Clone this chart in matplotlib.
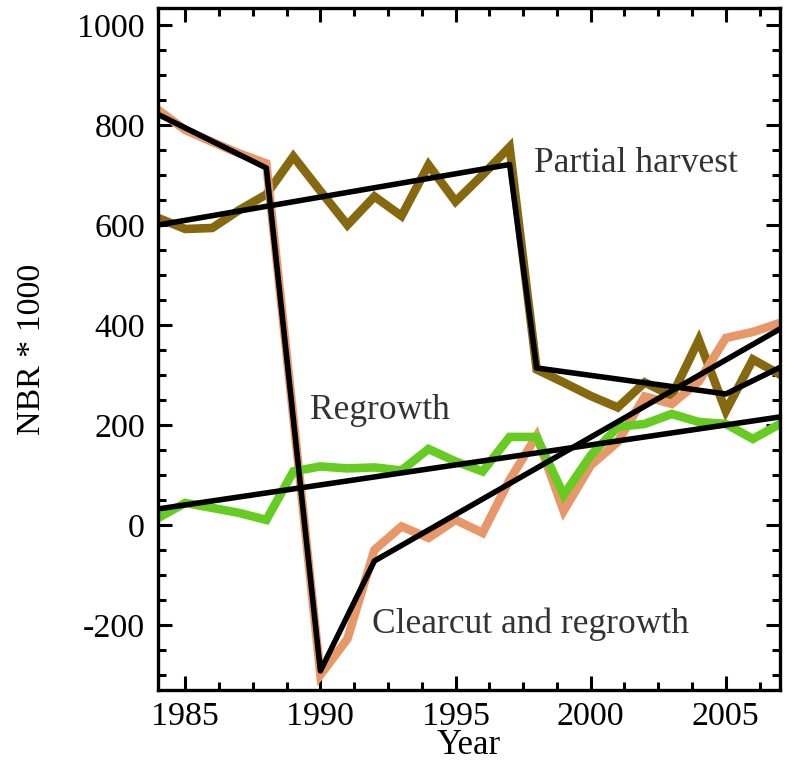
"""NBR trajectories with segmented fits: partial harvest, clearcut, regrowth."""

import matplotlib
matplotlib.use('Agg')
import matplotlib.pyplot as plt
from matplotlib.ticker import MultipleLocator

# ── Data ──

years = list(range(1984, 2008))

partial = [614, 592, 594, 630, 661, 737, 668, 600, 657, 618, 720, 647, 700, 756,
           311, 285, 258, 235, 285, 258, 370, 228, 331, 301]
clearcut = [830, 790, 766, 743, 723, 215, -300, -228, -50, -3, -26, 10, -16, 90,
            178, 28, 119, 166, 257, 242, 287, 374, 386, 404]
regrowth = [14, 44, 34, 24, 10, 107, 117, 113, 115, 109, 152, 127, 107, 176,
            176, 60, 139, 196, 202, 222, 206, 202, 172, 202]

# segmented fits (vertex years and values)
partial_fit_x = [1984, 1997, 1998, 2005, 2007]
partial_fit_y = [600, 721, 314, 262, 315]
clearcut_fit_x = [1984, 1988, 1990, 1992, 2007]
clearcut_fit_y = [821, 714, -292, -72, 392]
regrowth_fit_x = [1984, 2007]
regrowth_fit_y = [32, 216]

labels = ['Partial harvest', 'Regrowth', 'Clearcut and regrowth']
label_x = [1997.9, 1989.6, 1991.9]
label_y = [722, 228, -198]

BROWN = '#86690F'
SALMON = '#E89868'
GREEN = '#66CC22'

plt.rcParams['font.family'] = ['Liberation Serif', 'DejaVu Serif']
plt.rcParams['axes.unicode_minus'] = False

fig = plt.figure(figsize=(7.95, 7.64), dpi=100)
ax = fig.add_axes([0.199, 0.097, 0.782, 0.8925])

ax.plot(years, partial, color=BROWN, lw=6.2, solid_joinstyle='miter')
ax.plot(years, clearcut, color=SALMON, lw=6.2, solid_joinstyle='miter')
ax.plot(years, regrowth, color=GREEN, lw=6.2, solid_joinstyle='miter')

for fx, fy in [(partial_fit_x, partial_fit_y), (clearcut_fit_x, clearcut_fit_y),
               (regrowth_fit_x, regrowth_fit_y)]:
    ax.plot(fx, fy, color='black', lw=4.0)

for txt, tx, ty in zip(labels, label_x, label_y):
    ax.text(tx, ty, txt, fontsize=25.5, color='#333333', va='center', ha='left')

ax.set_xlim(1984, 2007)
ax.set_ylim(-330, 1034)
ax.xaxis.set_major_locator(MultipleLocator(5))
ax.xaxis.set_minor_locator(MultipleLocator(1.25))
ax.yaxis.set_major_locator(MultipleLocator(200))
ax.yaxis.set_minor_locator(MultipleLocator(50))

ax.tick_params(which='both', direction='in', top=True, right=True, width=2.2,
               labelsize=24.5)
ax.tick_params(axis='x', pad=8)
ax.tick_params(axis='y', pad=9.5)
ax.tick_params(which='major', length=10)
ax.tick_params(which='minor', length=5.5)
for sp in ax.spines.values():
    sp.set_linewidth(2.4)

ax.set_xlabel('Year', fontsize=25, labelpad=-1.5)
ax.set_ylabel('NBR * 1000', fontsize=24.5, labelpad=22)

fig.savefig('out.png', dpi=100)
